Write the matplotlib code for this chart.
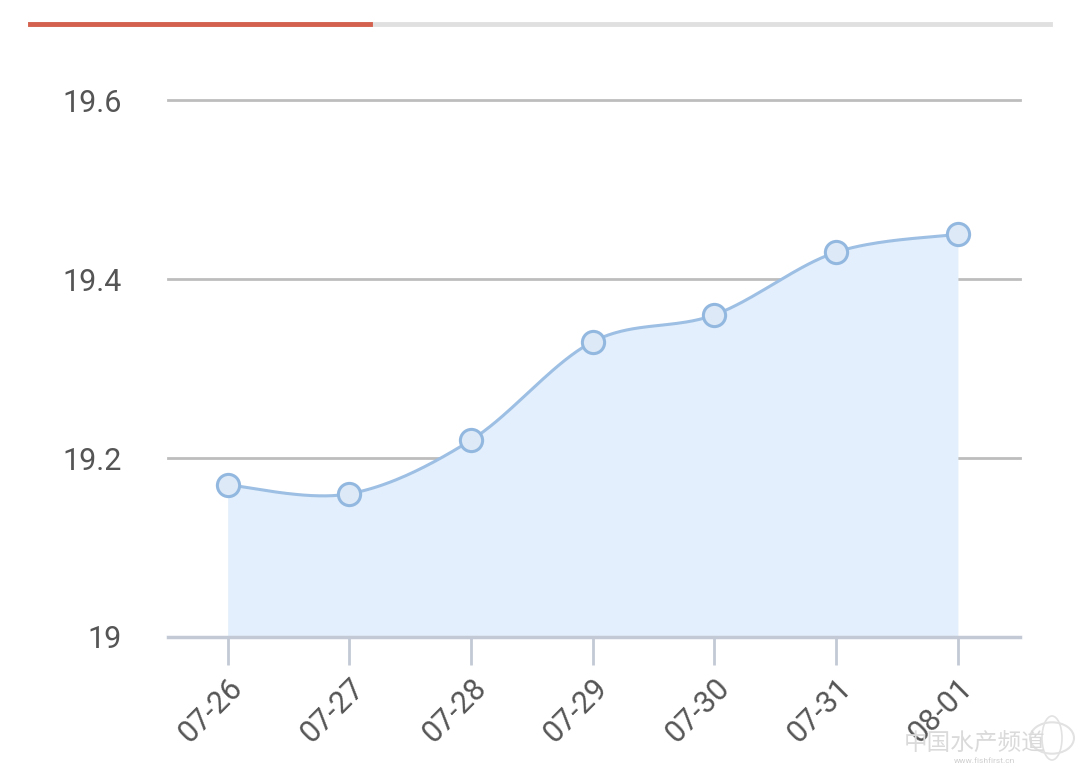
import numpy as np
import matplotlib
matplotlib.use("Agg")
import matplotlib.pyplot as plt
from matplotlib.lines import Line2D
from matplotlib.patches import Circle, Ellipse

dates = ["07-26", "07-27", "07-28", "07-29", "07-30", "07-31", "08-01"]
prices = [19.17, 19.16, 19.22, 19.33, 19.36, 19.43, 19.45]
y_ticks = [19, 19.2, 19.4, 19.6]
y_labels = ["19", "19.2", "19.4", "19.6"]

plt.rcParams['font.family'] = ['Roboto', 'Noto Sans CJK SC', 'DejaVu Sans']

fig = plt.figure(figsize=(10.8, 7.7), dpi=100)
ax = fig.add_axes([168/1080, 1-637/770, (1020-168)/1080, (637-100)/770])

x = np.arange(len(dates), dtype=float)
y = np.array(prices)

# smooth curve through points (cubic Hermite with Catmull-Rom style tangents)
def smooth_curve(x, y, n=40, s=0.5):
    xs, ys = [], []
    m = len(x)
    tx = np.zeros(m); ty = np.zeros(m)
    for i in range(m):
        i0 = max(i-1, 0); i1 = min(i+1, m-1)
        tx[i] = (x[i1]-x[i0]) * s
        ty[i] = (y[i1]-y[i0]) * s
    for i in range(m-1):
        t = np.linspace(0, 1, n)
        h00 = 2*t**3-3*t**2+1; h10 = t**3-2*t**2+t
        h01 = -2*t**3+3*t**2; h11 = t**3-t**2
        xs.append(h00*x[i]+h10*tx[i]+h01*x[i+1]+h11*tx[i+1])
        ys.append(h00*y[i]+h10*ty[i]+h01*y[i+1]+h11*ty[i+1])
    return np.concatenate(xs), np.concatenate(ys)

sx, sy = smooth_curve(x, y)
ax.fill_between(sx, sy, 19, color='#e3effc', lw=0, zorder=1)
ax.plot(sx, sy, color='#9dbfe3', lw=2.2, zorder=3, solid_capstyle='round')
ax.plot(x, y, 'o', ms=16, mfc='#dde9f7', mec='#93b8e0', mew=2.2, zorder=4, clip_on=False)

ax.set_xlim(-0.49, 6.51)
ax.set_ylim(19, 19.6)

for v in y_ticks[1:]:
    ax.axhline(v, color='#bdbdbd', lw=2, zorder=0.5, clip_on=False)

for s in ['top', 'right', 'left']:
    ax.spines[s].set_visible(False)
ax.spines['bottom'].set_color('#c3cad5')
ax.spines['bottom'].set_linewidth(2.5)
ax.spines['bottom'].set_zorder(5)

ax.set_yticks(y_ticks)
ax.set_yticklabels(y_labels)
ax.tick_params(axis='y', length=0, pad=33, labelsize=22, labelcolor='#555555')
for lbl in ax.get_yticklabels():
    lbl.set_verticalalignment('center_baseline')
ax.set_xticks(x)
ax.set_xticklabels(dates, rotation=45, ha='right', rotation_mode='anchor')
ax.tick_params(axis='x', length=20, width=2, color='#c3cad5', pad=6,
               labelsize=22, labelcolor='#555555')

# top decoration bar
fig.add_artist(Line2D([30/1080, 1050/1080], [1-24/770]*2, color='#e0e0e0', lw=3.5))
fig.add_artist(Line2D([30/1080, 370/1080], [1-24/770]*2, color='#d4604e', lw=3.5))

# watermark
fig.text(975/1080, 1-744/770, "中国水产频道", ha='center', va='center', fontsize=17,
         color='#dadada', style='italic', family=['Noto Sans CJK SC', 'DejaVu Sans'])
fig.text(985/1080, 1-761/770, "www.fishfirst.cn", ha='center', va='center', fontsize=6,
         color='#cfcfcf')
fig.add_artist(Circle((1052/1080, 1-738/770), 22/1080, transform=fig.transFigure,
                      fill=False, ec='#e2e2e2', lw=1.5))
fig.add_artist(Ellipse((1052/1080, 1-738/770), 20/1080, 44/770, transform=fig.transFigure,
                       fill=False, ec='#e2e2e2', lw=1.2))

fig.savefig("out.png", dpi=100, facecolor='white')
